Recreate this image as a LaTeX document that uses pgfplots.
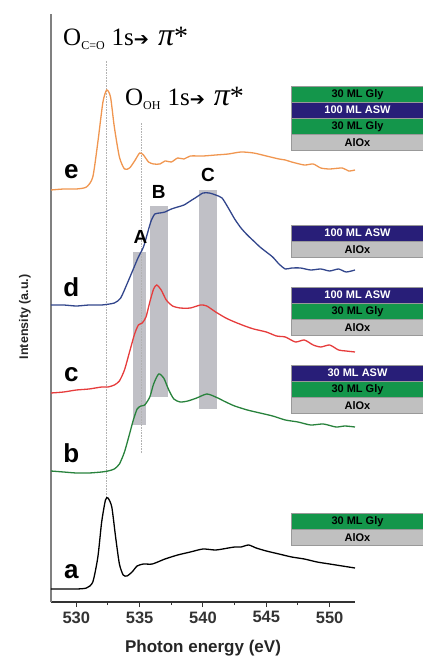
\documentclass[border=0pt]{standalone}
\usepackage{pgfplots}
\pgfplotsset{compat=1.18}
\usepackage{fontspec}
\setmainfont{Liberation Sans}
\newfontfamily\serif{Liberation Serif}
\newfontfamily\dejavu{DejaVu Sans}
\definecolor{corange}{RGB}{240,150,80}
\definecolor{cblue}{RGB}{50,70,140}
\definecolor{cred}{RGB}{230,60,60}
\definecolor{cgreen}{RGB}{40,130,60}
\definecolor{bgreen}{RGB}{20,150,75}
\definecolor{bnavy}{RGB}{40,30,120}
\definecolor{bgray}{RGB}{192,192,192}
\definecolor{barg}{RGB}{192,192,198}
\newcommand{\lay}[4]{\node[anchor=north west, fill=#1, draw=black!40, line width=0.4pt, minimum width=132pt, minimum height=16pt, inner sep=0pt, text=#3, font=\bfseries\fontsize{11}{11}\selectfont] at (axis cs:546.97,#2) {#4};}
\newcommand{\ttl}[1]{{\serif\fontsize{25}{25}\selectfont O\raisebox{-4pt}{\fontsize{12}{12}\selectfont #1}\hspace{7pt}1s{\dejavu\fontsize{18}{18}\selectfont ➔}\hspace{9pt}{\fontsize{32}{32}\selectfont\itshape π}{\fontsize{28}{28}\selectfont *}}}
\begin{document}
\begin{tikzpicture}
\path[use as bounding box] (-51pt,-55pt) rectangle (372pt,602pt);
\begin{axis}[
  at={(0pt,0pt)}, anchor=south west,
  scale only axis, width=304pt, height=588pt,
  xmin=528, xmax=552, ymin=0, ymax=588,
  clip=false,
  axis x line=bottom, axis y line=left,
  axis line style={-},
  x axis line style={black!80, line width=1.2pt},
  y axis line style={black!50, line width=1.8pt},
  ytick=\empty,
  xtick={530,535,540,545,550},
  minor xtick={532.5,537.5,542.5,547.5},
  tick align=outside,
  major tick length=5pt, minor tick length=3pt,
  every tick/.style={black!80, line width=1pt},
  /pgf/number format/assume math mode=true,
  xticklabel={\pgfmathprintnumber[assume math mode=true]{\tick}},
  xticklabel style={font=\bfseries\fontsize{16.5}{16.5}\selectfont, text=black!80, yshift=-1pt},
  xlabel={Photon energy (eV)},
  ylabel={Intensity (a.u.)},
  xlabel style={font=\bfseries\fontsize{17}{17}\selectfont, text=black!85, at={(axis description cs:0.5,-0.078)}, anchor=center},
  ylabel style={font=\bfseries\fontsize{12.5}{12.5}\selectfont, text=black!85, at={(axis description cs:-0.0855,0.485)}, anchor=center},
]
% highlight bars
\addplot[fill=barg, draw=none] coordinates {(534.5,177) (535.5,177) (535.5,350) (534.5,350)} -- cycle;
\addplot[fill=barg, draw=none] coordinates {(535.85,205) (537.2,205) (537.2,396) (535.85,396)} -- cycle;
\addplot[fill=barg, draw=none] coordinates {(539.7,193) (541.1,193) (541.1,412) (539.7,412)} -- cycle;
% dotted guides
\addplot[black!30, densely dotted, line width=0.6pt] coordinates {(532.4,104) (532.4,542)};
\addplot[black!30, densely dotted, line width=0.6pt] coordinates {(535.1,149) (535.1,480)};
% a
\addplot[black, line width=1.3pt, smooth, tension=0.4] coordinates {
(528,13) (529,13) (530,13) (530.8,14) (531.3,20) (531.7,45) (532.0,80) (532.3,102) (532.5,104) (532.8,95) (533.1,65) (533.4,38) (533.7,27) (534.0,26) (534.4,30) (534.8,36) (535.3,38) (536,38) (537,43) (538,47) (539,50) (540,53) (541,52) (542,54) (542.5,55) (543,55) (543.6,57) (544.2,54) (545,51) (546,48) (547,45) (548,43) (549,40) (550,38) (551,36) (552,34)};
% b
\addplot[cgreen, line width=1.3pt, smooth, tension=0.4] coordinates {
(528,131) (529,130) (530,129) (531,129) (532,130) (532.5,131) (533,133) (533.4,138) (533.8,150) (534.2,168) (534.5,182) (534.8,193) (535.1,196) (535.4,197) (535.8,205) (536.1,218) (536.5,228) (536.9,224) (537.3,212) (537.7,203) (538.2,200) (538.8,201) (539.5,204) (540.3,208) (541,205) (541.8,200) (542.5,196) (543.5,192) (544.5,189) (545.5,186) (546.5,182) (547.5,180) (548.5,177) (549.5,178) (550.5,175) (551.2,176) (552,175)};
% c
\addplot[cred, line width=1.3pt, smooth, tension=0.4] coordinates {
(528,209) (529,210) (530,212) (531,213) (532,215) (532.5,215) (533,217) (533.4,221) (533.8,232) (534.2,250) (534.6,268) (534.9,277) (535.2,279) (535.5,285) (535.8,300) (536.1,313) (536.35,317) (536.7,312) (537.1,302) (537.6,296) (538.2,294) (539,294) (539.8,297) (540.3,296) (541,290) (541.8,284) (542.5,280) (543.3,276) (544,273) (545,270) (545.8,266) (546.5,265) (547.3,260) (548,262) (548.7,257) (549.3,255) (550,257) (550.7,252) (551.3,251) (552,250)};
% d
\addplot[cblue, line width=1.3pt, smooth, tension=0.4] coordinates {
(528,297) (529,297) (530,296) (531,297) (532,297) (533,299) (533.5,304) (534,318) (534.5,333) (534.9,345) (535.3,355) (535.6,368) (535.9,381) (536.2,388) (536.6,389) (537,390) (537.5,393) (538,395) (538.5,397) (539,401) (539.5,405) (540,409) (540.5,409) (541,407) (541.5,404) (542,394) (542.5,383) (543,374) (543.5,367) (544,361) (544.5,355) (545,350) (545.5,345) (546,338) (546.5,333) (547,334) (547.7,334) (548.5,332) (549.3,333) (550,331) (550.7,333) (551.3,330) (552,332)};
% e
\addplot[corange, line width=1.3pt, smooth, tension=0.4] coordinates {
(528,412) (529,413) (530,413) (530.8,415) (531.3,425) (531.7,460) (532.1,500) (532.4,512) (532.7,505) (533.0,475) (533.4,445) (533.8,433) (534.2,434) (534.6,441) (535.0,449) (535.3,447) (535.7,440) (536.1,438) (536.6,438) (537,441) (537.5,440) (538,444) (538.5,443) (539,446) (540,446) (541,447) (542,448) (543,450) (544,449) (545,446) (546,443) (546.5,442) (547,440) (548,437) (548.7,438) (549.3,434) (550,433) (551,434) (551.5,431) (552,432)};
% curve labels
\foreach \l/\y in {e/430,d/315,c/227,b/149,a/30}{
  \edef\tmp{\noexpand\node[font=\noexpand\bfseries\noexpand\fontsize{26}{26}\noexpand\selectfont] at (axis cs:529.6,\y) {\l};}\tmp
}
% peak labels
\node[font=\bfseries\fontsize{19}{19}\selectfont] at (axis cs:535.06,365) {A};
\node[font=\bfseries\fontsize{19}{19}\selectfont] at (axis cs:536.5,410) {B};
\node[font=\bfseries\fontsize{19}{19}\selectfont] at (axis cs:540.4,427) {C};
% transition labels
\node[anchor=west, inner sep=0pt] at (axis cs:528.95,564) {\ttl{C=O}};
\node[anchor=west, inner sep=0pt] at (axis cs:533.84,504) {\ttl{OH}};
% layer stacks
\lay{bgreen}{516}{black}{30 ML Gly}
\lay{bnavy}{500}{white}{100 ML ASW}
\lay{bgreen}{484}{black}{30 ML Gly}
\lay{bgray}{468}{black}{AlOx}
\lay{bnavy}{377}{white}{100 ML ASW}
\lay{bgray}{361}{black}{AlOx}
\lay{bnavy}{315}{white}{100 ML ASW}
\lay{bgreen}{299}{black}{30 ML Gly}
\lay{bgray}{283}{black}{AlOx}
\lay{bnavy}{237}{white}{30 ML ASW}
\lay{bgreen}{221}{black}{30 ML Gly}
\lay{bgray}{205}{black}{AlOx}
\lay{bgreen}{89}{black}{30 ML Gly}
\lay{bgray}{73}{black}{AlOx}
\end{axis}
\end{tikzpicture}
\end{document}
